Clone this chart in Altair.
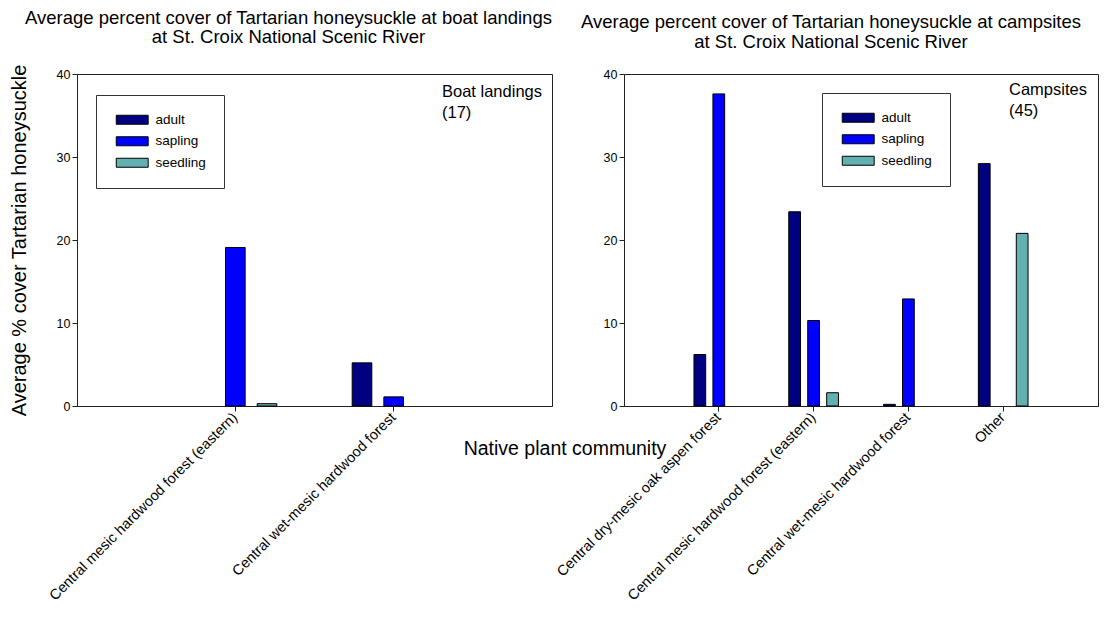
import altair as alt
import pandas as pd

FONT = "Liberation Sans, Arial, sans-serif"

stages = ["adult", "sapling", "seedling"]
stage_colors = ["#000080", "#0000FF", "#62B0B0"]

boat_communities = ["Central mesic hardwood forest (eastern)",
                    "Central wet-mesic hardwood forest"]
boat_adult = [0.0, 5.2]
boat_sapling = [19.1, 1.1]
boat_seedling = [0.28, 0.0]

camp_communities = ["Central dry-mesic oak aspen forest",
                    "Central mesic hardwood forest (eastern)",
                    "Central wet-mesic hardwood forest",
                    "Other"]
camp_adult = [6.2, 23.4, 0.2, 29.2]
camp_sapling = [37.6, 10.3, 12.9, 0.0]
camp_seedling = [0.0, 1.6, 0.0, 20.8]

y_ticks = [0, 10, 20, 30, 40]

boat_title = ["Average percent cover of Tartarian honeysuckle at boat landings",
              "at St. Croix National Scenic River"]
camp_title = ["Average percent cover of Tartarian honeysuckle at campsites",
              "at St. Croix National Scenic River"]
boat_note = "Boat landings\n(17)"
camp_note = "Campsites\n(45)"
y_title = "Average % cover Tartarian honeysuckle"
x_title = "Native plant community"


def frame(communities, series):
    rows = []
    for stage, vals in zip(stages, series):
        for c, v in zip(communities, vals):
            if v > 0:
                rows.append({"community": c, "stage": stage, "cover": v})
    return pd.DataFrame(rows)


def panel(df, communities, title, title_dx, note, note_x, note_y, leg_x, leg_y,
          width, show_ytitle, extra_text=None):
    yaxis_kw = dict(values=y_ticks, grid=False, labelFontSize=12.5,
                    labelPadding=2, tickSize=5)
    if show_ytitle:
        yaxis_kw.update(title=y_title, titleFontSize=20, titlePadding=27)
    else:
        yaxis_kw.update(title="")
    bars = alt.Chart(df).mark_bar(stroke="black", strokeWidth=1).encode(
        x=alt.X("community:N", sort=communities,
                scale=alt.Scale(domain=communities, paddingInner=0.4, paddingOuter=0.7),
                axis=alt.Axis(title="", labelAngle=-45, labelAlign="right",
                              labelBaseline="middle", labelFontSize=14.5,
                              labelLimit=500, labelPadding=4, tickSize=5)),
        xOffset=alt.XOffset("stage:N",
                            scale=alt.Scale(domain=stages, paddingInner=0.38, paddingOuter=0.19)),
        y=alt.Y("cover:Q", scale=alt.Scale(domain=[0, 40]), axis=alt.Axis(**yaxis_kw)),
        color=alt.Color("stage:N",
                        scale=alt.Scale(domain=stages, range=stage_colors),
                        legend=alt.Legend(title=None, orient="none", legendX=leg_x, legendY=leg_y,
                                          strokeColor="#333", fillColor="white", padding=18,
                                          symbolType="M-1,-1H6.1V1H-1Z", symbolSize=81,
                                          symbolStrokeColor="black", symbolStrokeWidth=1,
                                          symbolOpacity=1, labelFontSize=13.5, labelFont=FONT,
                                          labelOffset=28, rowPadding=6.5)),
    )
    note_layer = alt.Chart(pd.DataFrame({"t": [note]})).mark_text(
        align="left", baseline="top", fontSize=16.5, font=FONT, lineBreak="\n",
        lineHeight=21, color="black"
    ).encode(text="t:N", x=alt.value(note_x), y=alt.value(note_y))
    layers = [bars, note_layer]
    if extra_text is not None:
        layers.append(extra_text)
    return alt.layer(*layers).properties(
        width=width, height=332,
        title=alt.TitleParams(text=title, fontSize=18.5, font=FONT, fontWeight="normal",
                              anchor="middle", offset=17, lineHeight=19.5, color="black",
                              dx=title_dx),
    )


x_title_layer = alt.Chart(pd.DataFrame({"t": [x_title]})).mark_text(
    align="center", baseline="middle", fontSize=19.5, font=FONT, color="black"
).encode(text="t:N", x=alt.value(-59), y=alt.value(375))

left = panel(frame(boat_communities, [boat_adult, boat_sapling, boat_seedling]),
             boat_communities, boat_title, -26, boat_note, 365, 10, 19, 21, 475, True)
right = panel(frame(camp_communities, [camp_adult, camp_sapling, camp_seedling]),
              camp_communities, camp_title, -30, camp_note, 385, 8, 198, 19, 474, False,
              extra_text=x_title_layer)

chart = alt.hconcat(left, right, spacing=72, bounds="flush").resolve_scale(
    color="independent", x="independent", y="independent", xOffset="independent"
).resolve_legend(color="independent").properties(
    padding={"left": 0, "top": 0, "right": 0, "bottom": 0}
).configure_axis(
    labelFont=FONT, titleFont=FONT, domainColor="#222", tickColor="#222",
    labelColor="black", titleColor="black", titleFontWeight="normal"
).configure_view(stroke="#222", strokeWidth=1)

chart.save("out.html", embed_options={"renderer": "svg", "actions": False})
